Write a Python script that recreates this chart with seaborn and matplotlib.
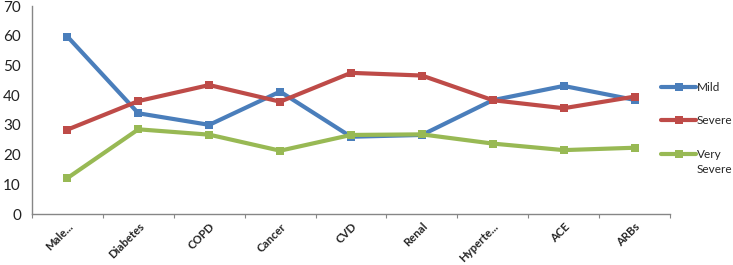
import pandas as pd
import numpy as np
import matplotlib.pyplot as plt
import seaborn as sns

cats = ["Male...", "Diabetes", "COPD", "Cancer", "CVD", "Renal", "Hyperte...", "ACE", "ARBs"]
mild = [59.7, 33.9, 30.0, 41.2, 26.0, 26.6, 38.3, 43.1, 38.4]
severe = [28.4, 38.0, 43.4, 37.8, 47.5, 46.6, 38.3, 35.6, 39.5]
very_severe = [12.1, 28.5, 26.7, 21.3, 26.6, 26.8, 23.7, 21.5, 22.3]
series = ["Mild", "Severe", "Very"]
colors = ["#4A7EBB", "#BE4B48", "#98B954"]

rows = []
for name, vals in zip(series, [mild, severe, very_severe]):
    for i, v in enumerate(vals):
        rows.append({"pos": i, "val": v, "grp": name})
df = pd.DataFrame(rows)

sns.set_style("white")
plt.rcParams['font.family'] = ['Lato', 'DejaVu Sans']

fig = plt.figure(figsize=(7.33, 2.65), dpi=100)
ax = fig.add_axes([32/733, 51/265, 638/733, 208/265])

sns.lineplot(data=df, x="pos", y="val", hue="grp", palette=colors,
             marker="s", markersize=6, markeredgewidth=0, linewidth=3,
             ax=ax, legend=True)

ax.set_xlim(-0.5, 8.5)
ax.set_ylim(0, 70)
ax.set_yticks(range(0, 71, 10))
ax.tick_params(axis='y', labelsize=11, length=0, pad=8, left=True, labelcolor="#222222")
ax.set_xticks(np.arange(-0.5, 9, 1))
ax.set_xticklabels([])
ax.tick_params(axis='x', which='major', length=3, color="#868686", direction="out", bottom=True)
ax.set_xticks(range(9), minor=True)
ax.set_xticklabels(cats, minor=True, rotation=45, ha="right", rotation_mode="anchor",
                   fontsize=8.2, fontweight="bold")
ax.tick_params(axis='x', which='minor', length=0, pad=5)
ax.set_xlabel("")
ax.set_ylabel("")
for s in ["top", "right"]:
    ax.spines[s].set_visible(False)
for s in ["left", "bottom"]:
    ax.spines[s].set_color("#868686")
    ax.spines[s].set_linewidth(1)

leg = ax.legend(loc="upper left", bbox_to_anchor=(661/733, 1 - 82/265), bbox_transform=fig.transFigure,
                frameon=False, fontsize=8.5, handlelength=3.0, handletextpad=0.05,
                labelspacing=1.9, borderpad=0, borderaxespad=0)

# second line of the "Very Severe" entry, under the first line as in the source chart
fig.canvas.draw()
bb = leg.get_texts()[2].get_window_extent()
fig.text(bb.x0 / fig.bbox.width, (bb.y0 - 15) / fig.bbox.height, "Severe",
         fontsize=8.5, ha="left", va="bottom")

fig.savefig("out.png", dpi=100)
